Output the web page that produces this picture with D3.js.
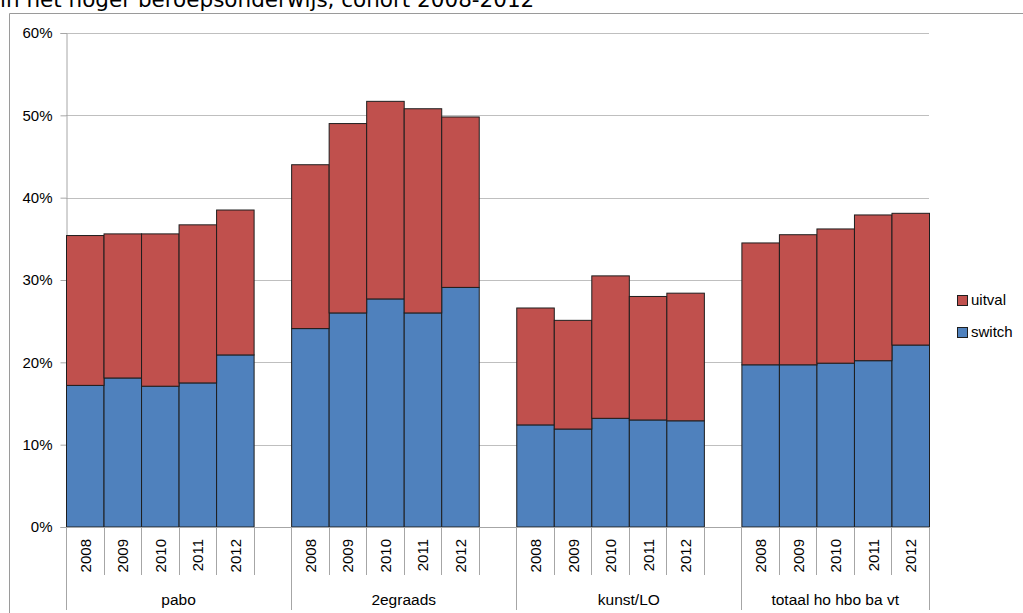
<!DOCTYPE html>
<html><head><meta charset="utf-8">
<script src="https://cdn.jsdelivr.net/npm/d3@7"></script>
<style>body{margin:0;background:#fff;}svg{display:block;}</style>
</head><body>
<svg id="c" width="1023" height="613"></svg>
<script>
const groups = ["pabo", "2egraads", "kunst/LO", "totaal ho hbo ba vt"];
const years = ["2008", "2009", "2010", "2011", "2012"];
const switchVals = [
  [17.2, 18.1, 17.1, 17.5, 20.9],
  [24.1, 26.0, 27.7, 26.0, 29.1],
  [12.4, 11.9, 13.2, 13.0, 12.9],
  [19.7, 19.7, 19.9, 20.2, 22.1]
];
const uitvalVals = [
  [18.2, 17.5, 18.5, 19.2, 17.6],
  [19.9, 23.0, 24.0, 24.8, 20.7],
  [14.2, 13.2, 17.3, 15.0, 15.5],
  [14.8, 15.8, 16.3, 17.7, 16.0]
];
const seriesNames = ["uitval", "switch"];
const yTicks = [0, 10, 20, 30, 40, 50, 60];
const titleText = "in het hoger beroepsonderwijs, cohort 2008-2012";

const colors = {switch: "#4F81BD", uitval: "#C0504D"};
const svg = d3.select("#c");
const font = "'Liberation Sans', Arial, sans-serif";

// slots: 5 bars + blank per group, last group without trailing blank
const slots = [];
groups.forEach((g, gi) => {
  years.forEach(y => slots.push(g + "|" + y));
  if (gi < groups.length - 1) slots.push(g + "|gap");
});
const x = d3.scaleBand().domain(slots).range([66, 929]).padding(0);
const y = d3.scaleLinear().domain([0, 60]).range([527, 33]);

// frame + title
svg.append("text").attr("x", 0).attr("y", 7).attr("font-family", "'DejaVu Sans', Verdana, sans-serif")
  .attr("font-size", 21.5).attr("fill", "#000").text(titleText);
svg.append("path").attr("d", "M9.5,613 V13.5 H1023").attr("fill", "none").attr("stroke", "#9a9a9a");

// gridlines
svg.append("g").selectAll("line").data(yTicks.filter(d => d > 0)).join("line")
  .attr("x1", 66).attr("x2", 929).attr("y1", d => Math.round(y(d)) + 0.5).attr("y2", d => Math.round(y(d)) + 0.5)
  .attr("stroke", "#bfbfbf");

// y axis
const ya = svg.append("g").attr("transform", "translate(66.5,0)")
  .call(d3.axisLeft(y).tickValues(yTicks).tickSize(6).tickPadding(8).tickFormat(d => d + "%"));
ya.select(".domain").attr("stroke", "#a6a6a6");
ya.selectAll(".tick line").attr("stroke", "#a6a6a6");
ya.selectAll(".tick text").attr("font-family", font).attr("font-size", 15).attr("fill", "#000");

// bars
const data = [];
groups.forEach((g, gi) => years.forEach((yr, yi) => {
  data.push({key: g + "|" + yr, s: switchVals[gi][yi], u: uitvalVals[gi][yi]});
}));
const bars = svg.append("g");
bars.selectAll("rect.s").data(data).join("rect")
  .attr("x", d => x(d.key) + 0.5).attr("width", x.bandwidth())
  .attr("y", d => y(d.s)).attr("height", d => y(0) - y(d.s))
  .attr("fill", colors.switch).attr("stroke", "#1e1e1e").attr("stroke-width", 1);
bars.selectAll("rect.u").data(data).join("rect")
  .attr("x", d => x(d.key) + 0.5).attr("width", x.bandwidth())
  .attr("y", d => y(d.s + d.u)).attr("height", d => y(d.s) - y(d.s + d.u))
  .attr("fill", colors.uitval).attr("stroke", "#1e1e1e").attr("stroke-width", 1);

// x axis
const xa = svg.append("g");
xa.append("line").attr("x1", 66).attr("x2", 929).attr("y1", 527.5).attr("y2", 527.5).attr("stroke", "#a6a6a6");
slots.forEach((s, i) => {
  const xe = Math.round(x(s) + x.bandwidth()) + 0.5;
  const isGroupEnd = s.endsWith("|gap") || i === slots.length - 1;
  xa.append("line").attr("x1", xe).attr("x2", xe).attr("y1", 527).attr("y2", isGroupEnd ? 610 : 575).attr("stroke", "#a6a6a6");
});
xa.append("line").attr("x1", 66.5).attr("x2", 66.5).attr("y1", 527).attr("y2", 610).attr("stroke", "#a6a6a6");
data.forEach(d => {
  const cx = x(d.key) + x.bandwidth() / 2;
  xa.append("text").attr("transform", `translate(${cx + 6},539) rotate(-90)`)
    .attr("text-anchor", "end").attr("font-family", font).attr("font-size", 15).attr("fill", "#000")
    .text(d.key.split("|")[1]);
});
groups.forEach(g => {
  const x0 = x(g + "|2008"), x1 = x(g + "|2012") + x.bandwidth();
  const xe = slots.includes(g + "|gap") ? x(g + "|gap") + x.bandwidth() : x1;
  xa.append("text").attr("x", (x0 + xe) / 2).attr("y", 605).attr("text-anchor", "middle")
    .attr("font-family", font).attr("font-size", 15.5).attr("fill", "#000").text(g);
});

// legend
const lg = svg.append("g");
seriesNames.forEach((n, i) => {
  const yy = 295 + i * 32;
  lg.append("rect").attr("x", 957.5).attr("y", yy + 0.5).attr("width", 10).attr("height", 10)
    .attr("fill", colors[n]).attr("stroke", "#1e1e1e");
  lg.append("text").attr("x", 971).attr("y", yy + 10).attr("font-family", font).attr("font-size", 15)
    .attr("fill", "#000").text(n);
});
</script>
</body></html>
